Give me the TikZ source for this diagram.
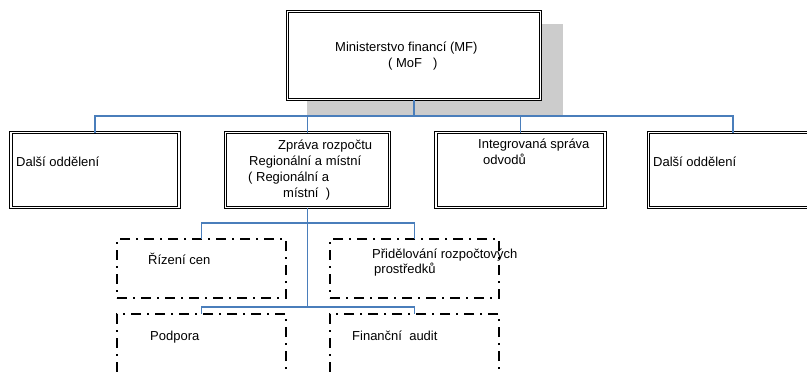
\documentclass[tikz,border=0pt]{standalone}
\usepackage{fontspec}
\setmainfont{Liberation Sans}
\definecolor{connblue}{RGB}{74,126,187}
\definecolor{shadowgray}{RGB}{204,204,204}
\tikzset{
  dbox/.style={draw=black, line width=1.05pt, double=white, double distance=1.4pt, fill=white, inner sep=0pt, outer sep=0pt},
  ddbox/.style={draw=black, line width=2.4pt, dash pattern=on 10pt off 6pt on 2pt off 6pt, inner sep=0pt, outer sep=0pt, minimum width=169pt, minimum height=59pt},
  conn/.style={draw=connblue, line width=1.3pt},
  txt/.style={anchor=base west, inner sep=0pt, font=\fontsize{13}{15}\selectfont}
}
\begin{document}
\begin{tikzpicture}[x=1pt, y=-1pt]
\clip (0,0) rectangle (807,372);
\fill[white] (0,0) rectangle (807,372);
% shadow of the top box
\fill[shadowgray] (307,24) rectangle (563,116);
% top box
\node[dbox, minimum width=253pt, minimum height=88pt] (top) at (414,55.5) {};
\node[txt] (t1) at (335,52) {Ministerstvo financí (MF)};
\node[txt] (t2) at (388,67) {( MoF\hspace{11pt})};
% second row
\node[dbox, minimum width=168pt, minimum height=75pt] (b1) at (95,170) {};
\node[dbox, minimum width=164pt, minimum height=75pt] (b2) at (307.5,170) {};
\node[dbox, minimum width=169pt, minimum height=75pt] (b3) at (520.5,170) {};
\node[dbox, minimum width=169pt, minimum height=75pt] (b4) at (733,170) {};
\node[txt] (b1t) at (16,166) {Další oddělení};
\node[txt] (b2t1) at (278,149) {Zpráva rozpočtu};
\node[txt] (b2t2) at (249,165) {Regionální a místní};
\node[txt] (b2t3) at (248,181) {( Regionální a};
\node[txt] (b2t4) at (283,197) {místní~~)};
\node[txt] (b3t1) at (478,148) {Integrovaná správa};
\node[txt] (b3t2) at (483,164) {odvodů};
\node[txt] (b4t) at (653,166) {Další oddělení};
% connectors top
\coordinate (bus) at (0,116);
\draw[conn] (top.south) -- (top.south |- bus) -| (b1.north);
\draw[conn] (top.south |- bus) -| (b2.north);
\draw[conn] (top.south |- bus) -| (b3.north);
\draw[conn] (top.south |- bus) -| (b4.north);
% third / fourth rows
\node[ddbox] (c1) at (201.5,268.5) {};
\node[ddbox] (c2) at (414.5,268.5) {};
\node[ddbox, minimum height=70pt] (c3) at (201.5,349) {};
\node[ddbox, minimum height=70pt] (c4) at (414.5,349) {};
\node[txt] (c1t) at (148,264) {Řízení cen};
\node[txt] (c2t1) at (372,258) {Přidělování rozpočtových};
\node[txt] (c2t2) at (374,273) {prostředků};
\node[txt] (c3t) at (150,340) {Podpora};
\node[txt] (c4t) at (352,340) {Finanční~ audit};
\coordinate (lv1) at (0,223);
\coordinate (lv2) at (0,307);
\draw[conn] (b2.south) -- (b2.south |- lv2);
\draw[conn] (c1.north) |- (b2.south |- lv1) -| (c2.north);
\draw[conn] (c3.north) |- (b2.south |- lv2) -| (c4.north);
\end{tikzpicture}
\end{document}
